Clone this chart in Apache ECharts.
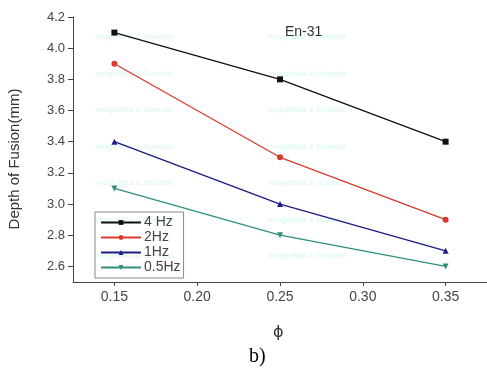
<!DOCTYPE html>
<html><head><meta charset="utf-8">
<script src="https://cdn.jsdelivr.net/npm/echarts@6/dist/echarts.min.js"></script>
<style>html,body{margin:0;padding:0;background:#fff}#c{width:487px;height:372px}</style>
</head><body><div id="c"></div>
<script>
const phi = [0.15, 0.25, 0.35];
const hz4 = [4.1, 3.8, 3.4];
const hz2 = [3.9, 3.3, 2.9];
const hz1 = [3.4, 3.0, 2.7];
const hz05 = [3.1, 2.8, 2.6];
const seriesNames = ['4 Hz', '2Hz', '1Hz', '0.5Hz'];
const yTicks = [2.6, 2.8, 3.0, 3.2, 3.4, 3.6, 3.8, 4.0, 4.2];
const xTicks = [0.15, 0.20, 0.25, 0.30, 0.35];

const chart = echarts.init(document.getElementById('c'));
const pair = arr => arr.map((v, i) => [phi[i], v]);
const colors = ['#111111', '#d83a2e', '#1c1c86', '#2e8f78'];
const symbols = ['rect', 'circle', 'triangle', 'path://M0,0 L10,0 L5,9 Z'];
const data = [hz4, hz2, hz1, hz05];

const wmRows = [38, 75, 111, 148, 184, 221, 257];
const wm = [];
wmRows.forEach(y => {
  [95, 268].forEach(x => {
    wm.push({type: 'text', x: x, y: y - 5, silent: true, z: -1,
      style: {text: 'Imagelifika & Scientist', fill: 'rgba(120,215,215,0.28)', font: '8px Arial'}});
  });
});

chart.setOption({
  animation: false,
  grid: {left: 73, right: 0, top: 17, bottom: 90},
  xAxis: {
    type: 'value', min: 0.125, max: 0.375,
    axisLine: {lineStyle: {color: '#444', width: 1}},
    axisTick: {show: true, inside: false, length: 4, customValues: xTicks, lineStyle: {color: '#444'}},
    axisLabel: {customValues: xTicks, formatter: v => v.toFixed(2), color: '#444', fontSize: 14, fontFamily: 'Arial', margin: 8},
    splitLine: {show: false}
  },
  yAxis: {
    type: 'value', min: 2.5, max: 4.2,
    axisLine: {show: true, lineStyle: {color: '#444', width: 1}},
    axisTick: {show: true, inside: false, length: 5, customValues: yTicks, lineStyle: {color: '#444'}},
    axisLabel: {customValues: yTicks, formatter: v => v.toFixed(1), color: '#444', fontSize: 13, fontFamily: 'Arial', margin: 8},
    splitLine: {show: false}
  },
  legend: {
    orient: 'vertical', left: 95, top: 212,
    data: seriesNames,
    itemWidth: 40, itemHeight: 6, itemGap: 0,
    borderColor: '#888', borderWidth: 1, padding: [3, 3, 3, 5],
    textStyle: {color: '#444', fontSize: 14, fontFamily: 'Arial', lineHeight: 15, padding: [0, 0, 0, -2]}
  },
  series: seriesNames.map((n, i) => ({
    name: n, type: 'line', data: pair(data[i]),
    symbol: symbols[i], symbolSize: 6,
    itemStyle: {color: colors[i]},
    lineStyle: {color: colors[i], width: 1.3}
  })),
  graphic: wm.concat([
    {type: 'text', x: 285, y: 25, style: {text: 'En-31', fill: '#333', font: '14px Arial'}},
    {type: 'text', x: 15, y: 159, rotation: Math.PI / 2, style: {text: 'Depth of Fusion(mm)', fill: '#333', font: '15px Arial', textAlign: 'center', textVerticalAlign: 'middle'}},
    {type: 'text', x: 273, y: 325, style: {text: 'ϕ', fill: '#333', font: '16px "DejaVu Sans"'}},
    {type: 'text', x: 249, y: 347, style: {text: 'b)', fill: '#000', font: '20px "Liberation Serif"'}}
  ])
});
</script></body></html>
